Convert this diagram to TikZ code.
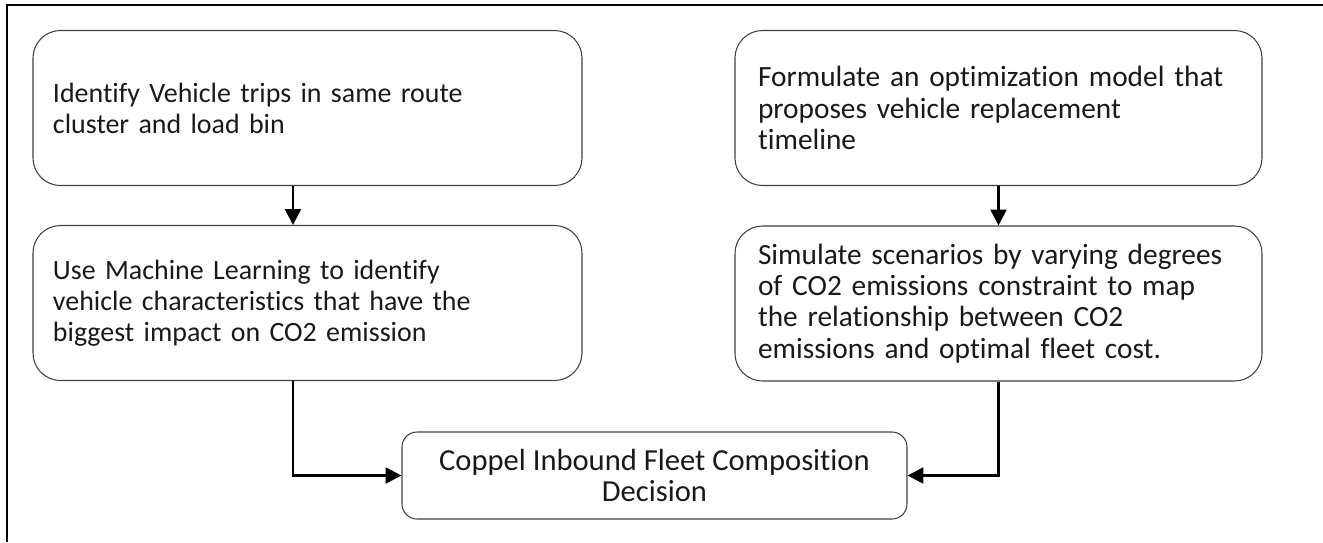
\documentclass[tikz,border=0pt]{standalone}
\usepackage{fontspec}
\setmainfont{Carlito}[Ligatures=NoCommon]
\usetikzlibrary{arrows.meta}

\begin{document}
\begin{tikzpicture}[
    stepbox/.style={rectangle, draw=black!75, line width=0.6pt,
                  rounded corners=0.55cm,
                  text width=10.18cm, inner xsep=0.4cm,
                  minimum height=3.1cm, align=left,
                  font=\fontsize{15.9}{17.6}\selectfont, text=black!90},
    decisionbox/.style={rectangle, draw=black!75, line width=0.6pt,
                  rounded corners=0.3cm,
                  minimum width=10.1cm, minimum height=1.74cm,
                  text centered, align=center,
                  font=\fontsize{17.4}{17.2}\selectfont, text=black!90},
    arrow/.style={-{Triangle[length=9pt,width=9pt]}, line width=1.5pt}
]
    \useasboundingbox (0,0) rectangle (26.46,-10.84);

    % outer frame, left and top edge only
    \draw[line width=1.3pt] (0.14,-10.84) -- (0.14,-0.1) -- (26.46,-0.1);

    \node[stepbox] (trips) at (6.15,-2.16)
        {Identify Vehicle trips in same route\\cluster and load bin};
    \node[stepbox] (learning) at (6.15,-6.06)
        {Use Machine Learning to identify\\vehicle characteristics that have the\\biggest impact on CO2 emission};

    \node[stepbox, text width=9.62cm, inner xsep=0.46cm,
        font=\fontsize{16.7}{17.9}\selectfont] (model) at (19.97,-2.16)
        {Formulate an optimization model that\\proposes vehicle replacement\\timeline};
    \node[stepbox, text width=9.62cm, inner xsep=0.46cm,
        font=\fontsize{16.7}{17.8}\selectfont] (simulate) at (19.97,-6.07)
        {Simulate scenarios by varying degrees\\of CO2 emissions constraint to map\\the relationship between CO2\\emissions and optimal fleet cost.};

    \node[decisionbox] (decision) at (13.09,-9.51)
        {Coppel Inbound Fleet Composition\\Decision};

    % left column runs a little left of the box centre
    \coordinate (leftline) at (5.86,0);

    \draw[arrow] (trips.south -| leftline) -- (learning.north -| leftline);
    \draw[arrow] (model) -- (simulate);

    % both columns into the decision
    \draw[arrow] (learning.south -| leftline) |- (decision.west);
    \draw[arrow] (simulate.south) |- (decision.east);

\end{tikzpicture}
\end{document}
